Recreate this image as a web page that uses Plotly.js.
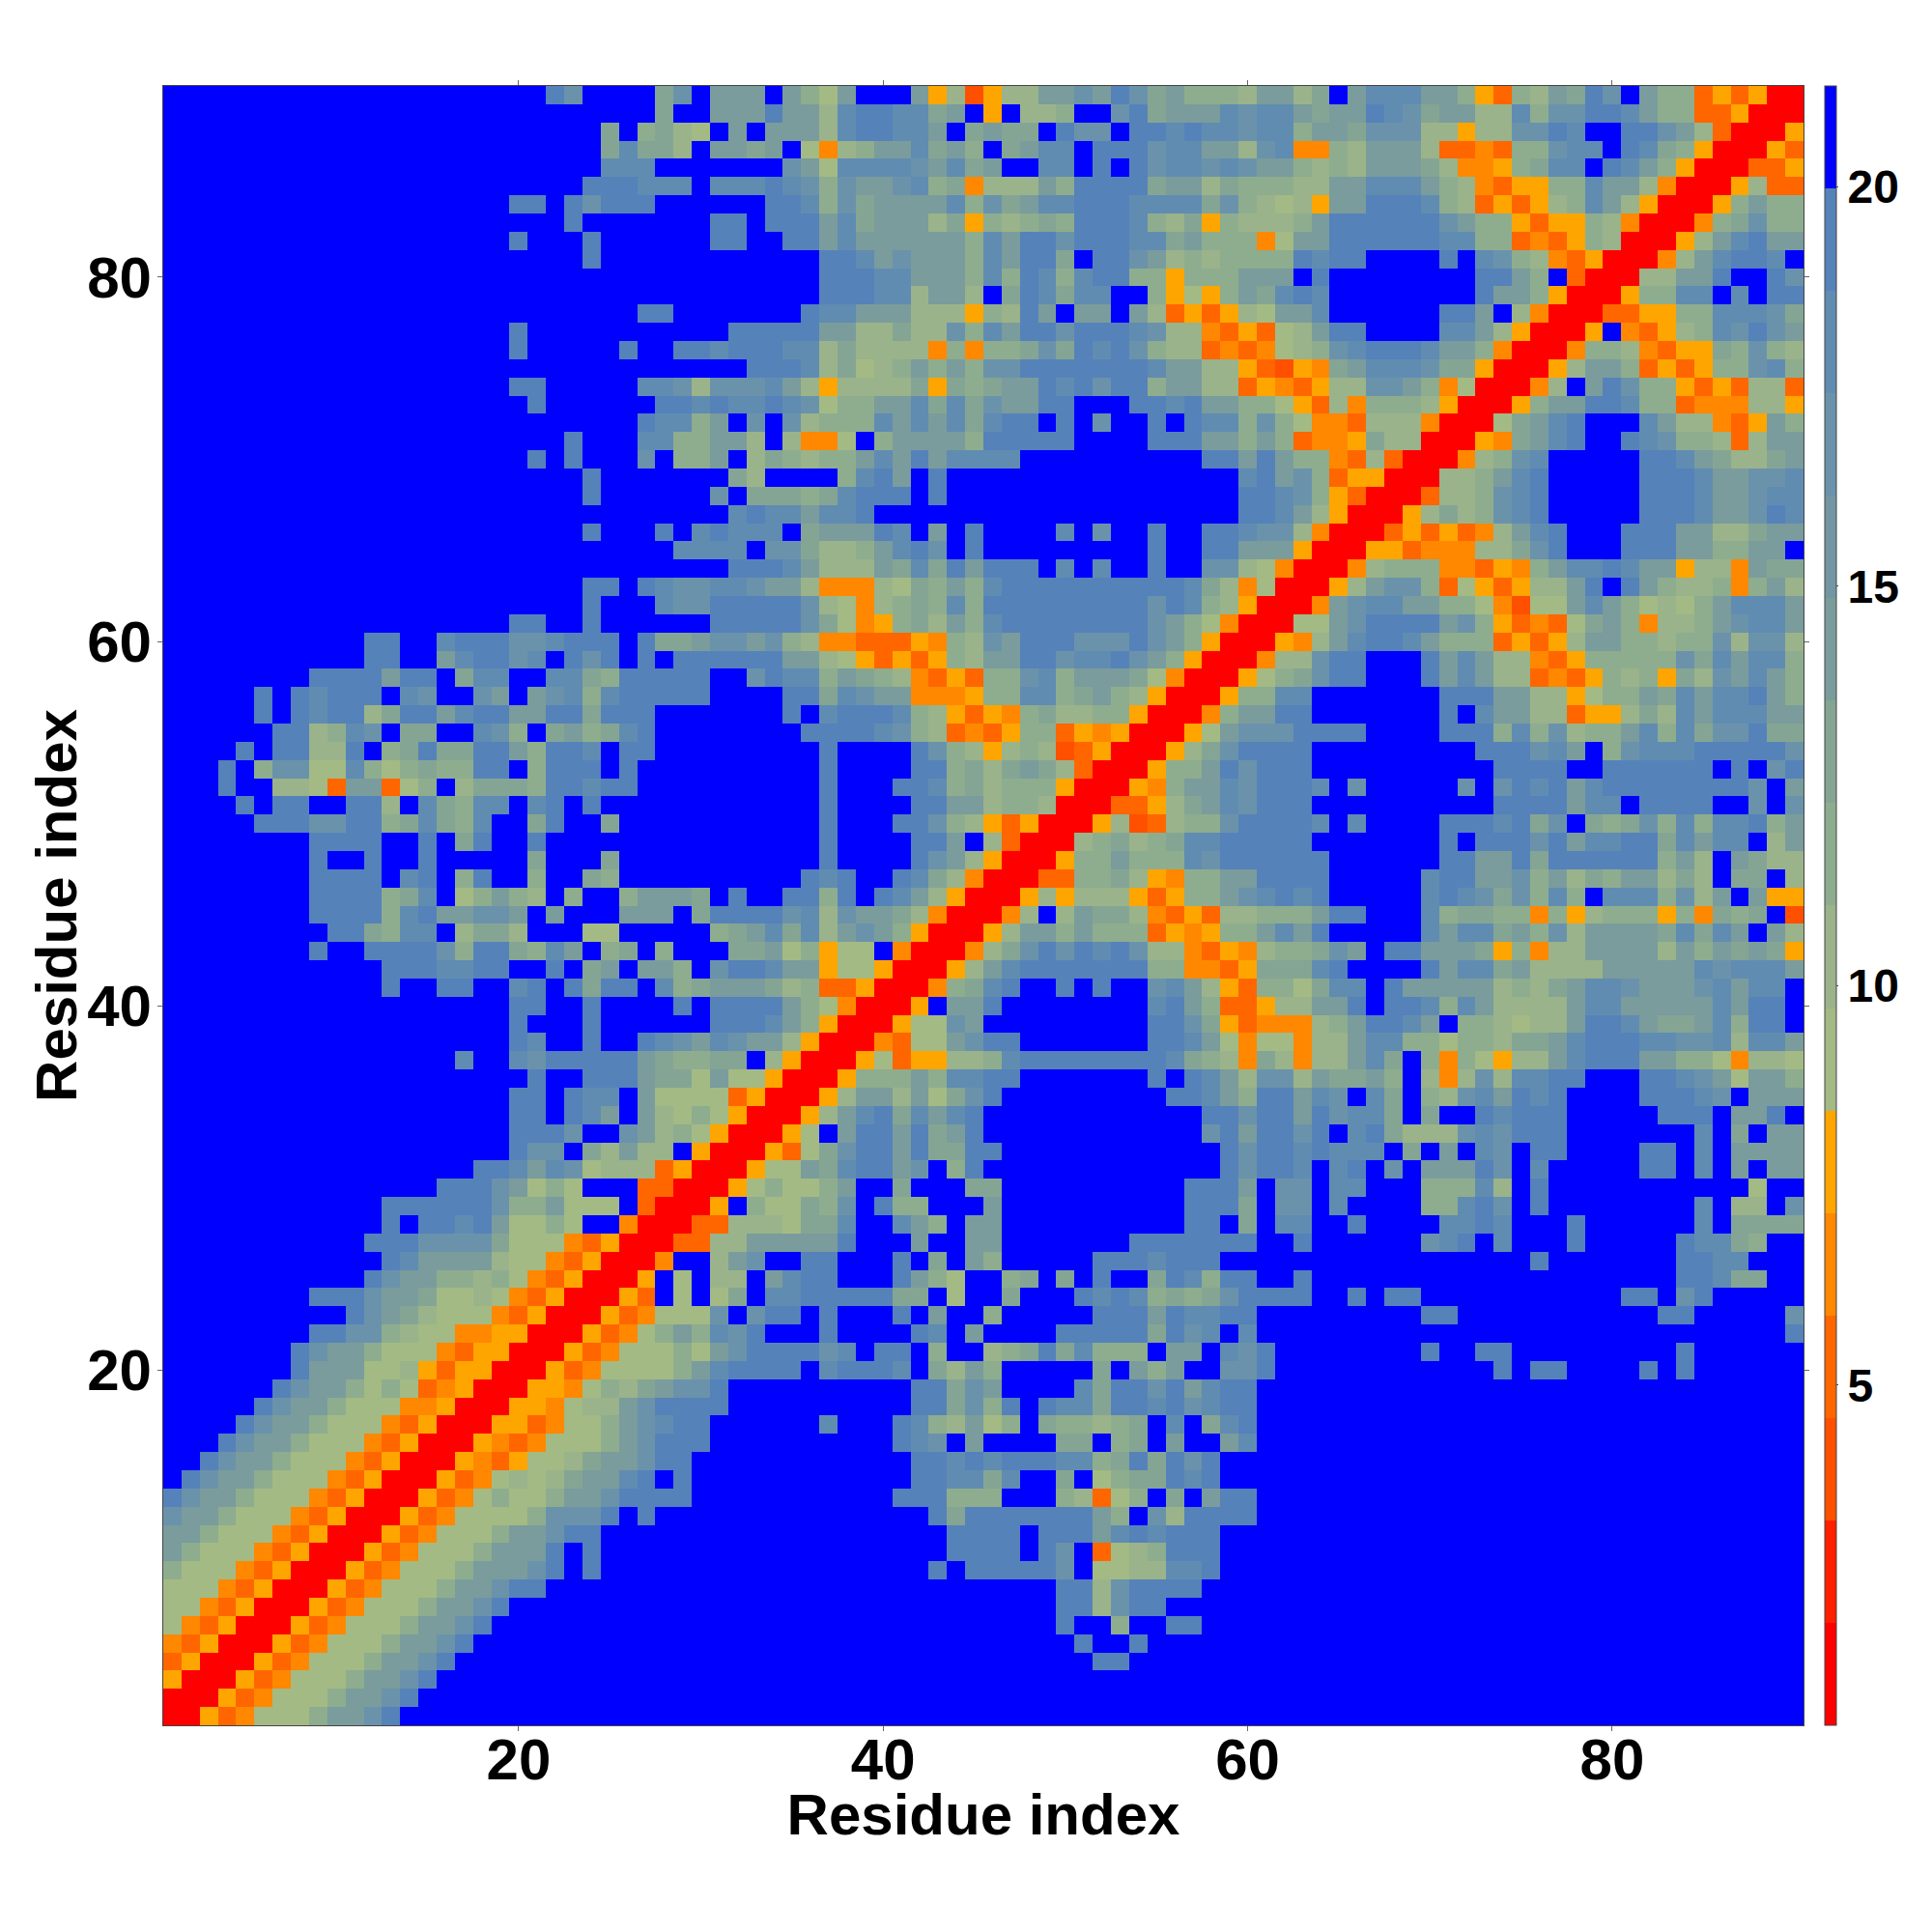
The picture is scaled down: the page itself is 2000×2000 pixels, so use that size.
<!DOCTYPE html>
<html><head><meta charset="utf-8">
<script src="https://cdn.plot.ly/plotly-3.0.1.min.js"></script>
<style>html,body{margin:0;padding:0;background:#fff}</style></head>
<body><div id="chart" style="width:2000px;height:2000px"></div>
<script>
// Distance-bin codes, one string per row y = 1, 2, ...
// Each string starts at column x = max(y, first column of the band); the map is symmetric.
// Columns not written at the end of a string are the top (blue) bin.
const bandLeft = [ // x 1..30
"005346668aabd","005346668aabd","005346668aabd","005346668aabd","005346668aabd","005346668aabd","005346668aabd",
"005346668aabdd","005346668aaabdfd","005346668aaadfd","005346668aabdd","0053466668bbbdfd","0053468668aabdddd",
"0053467679aacdfd","0054356679aabdd","0054346668abddd","005534668abcdd","00554677abddd","005546879abb",
"0053466668a","0053466686","0053468a8","00534666","0053f6f","005f6f","004ff","0033","003","00","0"];
const bandMiddle = [ // x 31..60
"","","",
"fffffffffffffffffffffdd",
"ffffffffffffffffffffdffd",
"fffffffffffffffffffdff8ffdd",
"fffffffffffffffffffdd7bdd",
"fffffffffffffffffffdd7bdddd",
"ffffffffffffdfdddddbf6677ccd",
"fffffffffffffddddfdbf3678ddd",
"fffffffffffffddddfdddacdcddd",
"ffffffffffffd9ddddddda8fb7ddddd",
"ffffffffffddd888fff87368f9fadd",
"fffffffffffddcc9cff9f6899dcd",
"fffffffffffddcdcdddcc89d9dbd",
"ffffffffffdcbfaffff99f89faffac",
"ffffffcfffdc87a68f988789fcf9cd",
"dffffffffffdd9b8dfdcc9ddcdbcdd",
"dffffffffffdd9baffffc9ddbdacdd",
"cddddfcdddcf97a8fffff9fa8affbb",
"abddddbcfddf8ff789d9c888faafcb",
"cbdfffdffffdcfaffffddddd9dbcfc",
"bfbddfdfffdfaff8fffffdddadccdd",
"69fccddddd99f6ff9fffdcdc8989bd",
"77facddfffda86ff89f9fdff9dc8dd",
"7abffddfffdf9fa8fffffdddcdddff",
"77aaaaadfffaffaafffffffddddddd",
"3777699cffca8faaffffffffffddf9",
"5f86698bfd88fffaffffffffffddd9",
"0568668aff9fff99ffffffffffddda",
"00566a9cddabf8dfffffffffffffdb",
"005369bddad99ddffffffffffffdb",
"0056faddad9adffffffffffffbda",
"0057acd9cacdffffffffffffddb",
"0057aa7a69bdfffffffffddca8",
"005888a8ccddfffffffdfdca7",
"0056355778cddddddddc9874",
"004366abddfffffffddca64",
"00566bafffffffffddb953",
"005faadffffffffcda833",
"00489cdffdfdffbca753",
"0057acddddddd884435",
"00479bdbdcdb774354",
"0057aa8a888354588",
"0047f7a997435377",
"0057577753588ab",
"003388975488aa",
"00588a888cbdd",
"00789789ccdd",
"005723788bd",
"0033579acb",
"00548aacb",
"00588adb",
"00579bd",
"0056ab",
"0048a",
"0058",
"005",
"00",
"0"];
const bandRight = [ // x 61..90
"","","","","","","","","","","","","","","","","","","",
"dffffffffffffdfddffffdfd",
"dffffffffdffddfffffffffd",
"fffffffffffffffffffffffffffffd",
"fffffffffddfffffffffffddfffffb",
"dddffdfddfffffffffffddfbd",
"ffdffffffffffffffffffffddc99",
"fffffffffffffffdfffffffddcc",
"ffdffffffbcdfcfffdfffffdcc98",
"fccffdffffccdcfffdffffffcf9999",
"fbbfcffff88cdbfdffffffffcf77fb",
"fbbfccfff888c7fdfffffffffff6",
"ddcfcdfbfaaadbfcfffffddfcfafaa",
"ddcdcccf9fafcbfddffffddfcfaaaa",
"ddbdfcd9777bcbdddfffffffcf9faa",
"ddadbcc9f9ffdcdddfffffdddfaadf",
"ddacbfc9f87bcadcdffffdddcbfaaa",
"bb7a99a8f747b7ccddfffddcba6aa8",
"97477ac9f8486577acdddaa8864776",
"66477acc88688799acdddccbbc7cca",
"44478addcaf887677addca99ac8ddf",
"577aadfddc8ca7777accaaaaacaddf",
"8869ccfdaaaaa7879accbaaabcaccf",
"999cdffffdacc9a7777aaaaacbccca",
"7889bafddaaa958477aaaa7a8a9a95",
"acadfffffcacc9a8b7aaaa9c9cafa7",
"888addfffc899884857888584989f2",
"cdcdfffffcdcb9b8c8fccc8b7afa55",
"ddddfffffcddaab8a798aa797f99f7",
"ddddffffffddaad9dddddd8a7fa977",
"dddfffffffdfdddbdaccdd9caccf7a",
"dddcfcffffdddcd9bf989b8c8ccd8a",
"dddffffffffffddddaccfddddffbfb",
"dddcfbfffffbfbdcdacddddddddbfa",
"dddffffffffffddddffddddddfdfbd",
"dddfffffffffdddbcaf8bcccdddddb",
"bbddddffffddd8c8b788ac8c9bbd99",
"addfffffffdfcaa77355797cacccaa",
"8ccfffffffdddaa775688a9caccda8",
"689bddfffdaca773435878597baca8",
"477bddfffdaca7743588888b9cacc8",
"0547acddca88835357aa88788b7bb7",
"0066abddddab8534369a84778abcca",
"004abccaa8864266aca86768accca",
"0057abb83653577adfda877848a7",
"0047888443548accdcaa5774a99",
"00553444779bdfffdddaa88aaf",
"003535347acdfffdddaa779aa",
"0057978bcdfffffdddcaabdc",
"003778bcdfffffdddcaabcc",
"00778acdfffffdddcaabbc",
"00478bcfffffddca9779a",
"00549acdffdcb88737aa",
"0069acdfffca77435a8",
"0058aaddc883444775",
"0047fadb885353773",
"0057aa8353588bc8",
"004887435598b87",
"005f43578cbdba",
"00335588cccb9",
"00588ccfcfdd",
"0077aadffdb",
"0047acddcf",
"0057acdaa",
"00489b88",
"0058a88",
"005733",
"00335",
"0053",
"005",
"00",
"0"];
const binColors = ["#ff0000","#ff2000","#ff5000","#ff6600","#ff8800","#ffa500","#a3ba84","#9ab38a","#8ead8e","#85a594","#7a9c9c","#7297a3","#6a93ab","#608cb2","#5682ba","#0000ff"];
const binOfCode = {"0":0,"1":1,"2":2,"3":3,"4":4,"5":5,"6":6,"7":7,"8":8,"9":9,"a":10,"b":12,"c":13,"d":14,"f":15};
const zMin = 0.744, zMax = 21.26;
const tickValues = [20,40,60,80];
const barTicks = [5,10,15,20];
const axisTitle = "Residue index";

const N = 90, step = (zMax-zMin)/16;
const codeAt = (x,y)=>{
  const band = x<=30?bandLeft:x<=60?bandMiddle:bandRight;
  const first = x<=30?1:x<=60?31:61;
  const row = band[y-1]||"";
  return row[x-Math.max(y,first)]||"f";
};
const idx = Array.from({length:N},(_,i)=>i+1);
const z = idx.map(y=>idx.map(x=>{
  const c = x>=y?codeAt(x,y):codeAt(y,x);
  return zMin+step*(binOfCode[c]+0.5);
}));
const colorscale = [];
binColors.forEach((c,k)=>{colorscale.push([k/16,c]);colorscale.push([(k+1)/16,c]);});
const font = {family:"Liberation Sans, Arial, sans-serif",color:"#000",weight:"bold"};
const axis = (extra)=>Object.assign({range:[0.5,90.5],tickmode:"array",tickvals:tickValues,ticktext:tickValues.map(String),
  ticks:"outside",ticklen:5,tickwidth:1,tickcolor:"#666",mirror:"ticks",showline:true,linecolor:"#444",linewidth:1,
  showgrid:false,zeroline:false,tickfont:Object.assign({size:60},font)},extra);
Plotly.newPlot("chart",[{type:"heatmap",x:idx,y:idx,z:z,zmin:zMin,zmax:zMax,colorscale:colorscale,hoverongaps:false,
  colorbar:{thickness:12,thicknessmode:"pixels",len:1,lenmode:"fraction",y:0.5,yanchor:"middle",ypad:0,x:1.0129,xanchor:"left",xpad:0,
    outlinewidth:1,outlinecolor:"#444",tickmode:"array",tickvals:barTicks,ticktext:barTicks.map(String),ticks:"outside",ticklen:2,tickwidth:1,tickcolor:"#444",
    tickfont:Object.assign({size:48},font)}}],
{width:2000,height:2000,autosize:false,margin:{l:169,r:133,t:89,b:214,pad:0},paper_bgcolor:"#fff",plot_bgcolor:"#fff",
 xaxis:axis({title:{text:axisTitle,font:Object.assign({size:60},font),standoff:0},automargin:false,ticklabelstandoff:-22}),
 yaxis:axis({title:{text:axisTitle,font:Object.assign({size:60},font),standoff:0},automargin:false,ticklabelstandoff:-6})},
{displayModeBar:false,staticPlot:true}).then(gd=>{
  // title.standoff cannot go below 0, so the last few pixels are a nudge of the drawn titles
  const nudge=(sel,dx,dy)=>{const t=gd.querySelector(sel);if(t)t.setAttribute("transform","translate("+dx+","+dy+") "+(t.getAttribute("transform")||""));};
  nudge(".xtitle",0,-10);
  nudge(".ytitle",9,0);
});
</script></body></html>
